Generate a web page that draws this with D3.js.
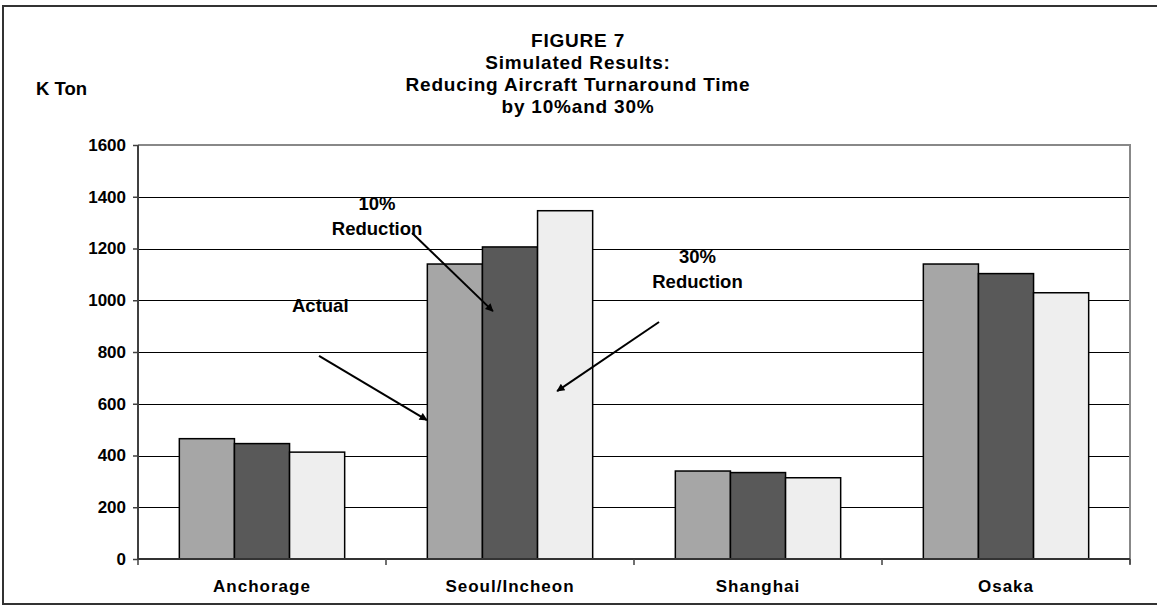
<!DOCTYPE html>
<meta charset="utf-8">
<style>
html, body { margin: 0; padding: 0; background: #fff; }
text { font-family: "Liberation Sans", Arial, sans-serif; font-weight: bold; fill: #000; }
.grid line { stroke: #000; stroke-width: 1; }
.bar { stroke: #000; stroke-width: 1.5; }
.arrow { stroke: #000; stroke-width: 2; fill: none; }
</style>
<div id="container"></div>
<script src="https://cdn.jsdelivr.net/npm/d3@7"></script>
<script>

// chart data
var categories = ['Anchorage', 'Seoul/Incheon', 'Shanghai', 'Osaka'];
var seriesNames = ['Actual', '10% Reduction', '30% Reduction'];
var actual = [465, 1140, 340, 1140];
var reduce10 = [446, 1206, 334, 1103];
var reduce30 = [413, 1346, 314, 1029];
var yTicks = [0, 200, 400, 600, 800, 1000, 1200, 1400, 1600];
var titleLines = ['FIGURE 7', 'Simulated Results:', 'Reducing Aircraft Turnaround Time', 'by 10%and 30%'];
var yLabel = 'K Ton';

// annotations, placed in data units (x = category index, y = K Ton)
var noteTexts = [
  {lines: ['Actual'], x: 0.621, y: 955, anchor: 'start'},
  {lines: ['10%', 'Reduction'], x: 0.964, y: 1349, anchor: 'middle'},
  {lines: ['30%', 'Reduction'], x: 2.256, y: 1144, anchor: 'middle'}
];
var noteArrows = [
  {x1: 0.730, y1: 785, x2: 1.165, y2: 537},
  {x1: 1.105, y1: 1260, x2: 1.431, y2: 958},
  {x1: 2.101, y1: 916, x2: 1.690, y2: 649}
];

var colors = ['#a6a6a6', '#595959', '#eeeeee'];

var width = 1157, height = 606;
var margin = {top: 145, left: 138, right: 27, bottom: 47};
var plotW = width - margin.left - margin.right,
    plotH = height - margin.top - margin.bottom;

var svg = d3.select('#container').append('svg')
    .attr('width', width)
    .attr('height', height);

var defs = svg.append('defs');
defs.append('marker')
    .attr('id', 'head')
    .attr('viewBox', '0 0 10 10')
    .attr('refX', 9).attr('refY', 5)
    .attr('markerWidth', 5).attr('markerHeight', 4)
    .attr('markerUnits', 'strokeWidth')
    .attr('orient', 'auto')
  .append('path')
    .attr('d', 'M0,0L10,5L0,10z')
    .attr('fill', '#000');

// outer frame
svg.append('path')
    .attr('d', 'M' + width + ',6H3V604H' + width)
    .attr('fill', 'none')
    .attr('stroke', '#333')
    .attr('stroke-width', 2);

// title
svg.append('g').selectAll('text')
    .data(titleLines)
  .enter().append('text')
    .attr('x', 578)
    .attr('y', function(d, i) { return 47 + i * 22; })
    .attr('text-anchor', 'middle')
    .style('font-size', '19px')
    .style('letter-spacing', '0.8px')
    .text(function(d) { return d; });

svg.append('text')
    .attr('x', 36).attr('y', 95)
    .style('font-size', '18.5px')
    .text(yLabel);

var g = svg.append('g')
    .attr('transform', 'translate(' + margin.left + ',' + margin.top + ')');

var y = d3.scaleLinear().domain([0, 1600]).range([plotH, 0]);
var x0 = d3.scaleBand().domain(categories).range([0, plotW]);
var x1 = d3.scaleBand().domain(d3.range(seriesNames.length))
    .range([0, x0.bandwidth()])
    .paddingOuter(0.75);
var xIdx = d3.scaleLinear().domain([0, categories.length]).range([0, plotW]);

// gridlines
g.append('g').attr('class', 'grid')
  .selectAll('line')
    .data(yTicks.slice(1, -1))
  .enter().append('line')
    .attr('x1', 0).attr('x2', plotW)
    .attr('y1', function(d) { return Math.round(y(d)) + 0.5; })
    .attr('y2', function(d) { return Math.round(y(d)) + 0.5; });

// plot area top and right edge (gray)
g.append('path')
    .attr('d', 'M0,0H' + plotW + 'V' + (plotH + 5))
    .attr('fill', 'none')
    .attr('stroke', '#888')
    .attr('stroke-width', 2);

// bars
var rows = categories.map(function(c, i) { return [actual[i], reduce10[i], reduce30[i]]; });
g.append('g').selectAll('g')
    .data(rows)
  .enter().append('g')
    .attr('transform', function(d, i) { return 'translate(' + x0(categories[i]) + ',0)'; })
  .selectAll('rect')
    .data(function(d) { return d; })
  .enter().append('rect')
    .attr('class', 'bar')
    .attr('x', function(d, j) { return x1(j); })
    .attr('width', x1.bandwidth())
    .attr('y', function(d) { return y(d); })
    .attr('height', function(d) { return plotH - y(d); })
    .attr('fill', function(d, j) { return colors[j]; });

// y axis
var yAxis = g.append('g')
    .call(d3.axisLeft(y).tickValues(yTicks).tickFormat(d3.format('d')).tickSize(5).tickPadding(7));
yAxis.select('.domain').attr('stroke', '#404040').attr('stroke-width', 2)
    .attr('d', 'M0,0V' + plotH);
yAxis.selectAll('.tick line').attr('stroke', '#404040').attr('stroke-width', 1.5);
yAxis.selectAll('text').style('font-size', '17px').attr('fill', '#000');

// x axis, ticks between categories
var xAxis = g.append('g')
    .attr('transform', 'translate(0,' + plotH + ')');
xAxis.append('line')
    .attr('x1', 0).attr('x2', plotW)
    .attr('stroke', '#333').attr('stroke-width', 2);
xAxis.selectAll('.tk')
    .data(d3.range(categories.length + 1))
  .enter().append('line')
    .attr('class', 'tk')
    .attr('x1', function(d) { return xIdx(d); })
    .attr('x2', function(d) { return xIdx(d); })
    .attr('y1', 0).attr('y2', 6)
    .attr('stroke', '#404040').attr('stroke-width', 1.5);
xAxis.selectAll('.lbl')
    .data(categories)
  .enter().append('text')
    .attr('class', 'lbl')
    .attr('x', function(d) { return x0(d) + x0.bandwidth() / 2; })
    .attr('y', 33)
    .attr('text-anchor', 'middle')
    .style('font-size', '17px')
    .style('letter-spacing', '1px')
    .text(function(d) { return d; });

// annotations
g.append('g').selectAll('line')
    .data(noteArrows)
  .enter().append('line')
    .attr('class', 'arrow')
    .attr('x1', function(d) { return xIdx(d.x1); })
    .attr('y1', function(d) { return y(d.y1); })
    .attr('x2', function(d) { return xIdx(d.x2); })
    .attr('y2', function(d) { return y(d.y2); })
    .attr('marker-end', 'url(#head)');

var notes = g.append('g').selectAll('text')
    .data(noteTexts)
  .enter().append('text')
    .attr('x', function(d) { return xIdx(d.x); })
    .attr('y', function(d) { return y(d.y); })
    .attr('text-anchor', function(d) { return d.anchor; })
    .style('font-size', '18.5px');
notes.selectAll('tspan')
    .data(function(d) { return d.lines.map(function(t) { return {t: t, x: xIdx(d.x)}; }); })
  .enter().append('tspan')
    .attr('x', function(d) { return d.x; })
    .attr('dy', function(d, i) { return i ? 25.5 : 0; })
    .text(function(d) { return d.t; });

</script>
